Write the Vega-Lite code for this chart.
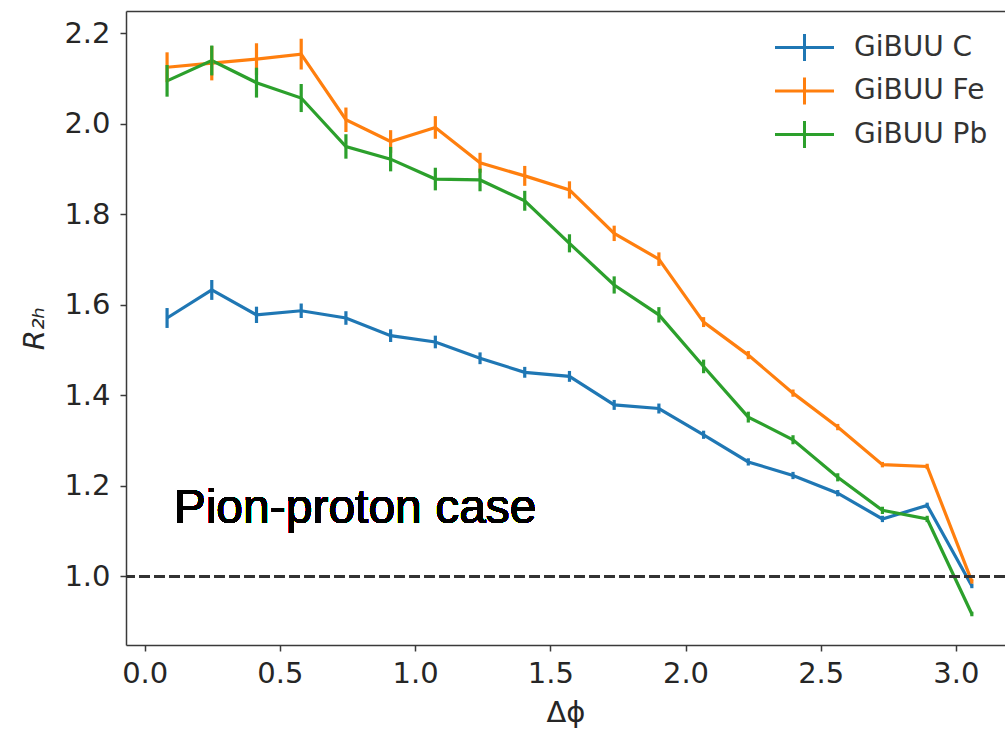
{
  "$schema": "https://vega.github.io/schema/vega-lite/v6.json",
  "width": 879,
  "height": 634,
  "autosize": {"type": "none"},
  "padding": {"left": 126, "top": 11, "right": 0, "bottom": 92},
  "background": "white",
  "config": {
    "view": {"stroke": null},
    "font": "DejaVu Sans",
    "axis": {
      "grid": false,
      "domainColor": "#3a3a3a",
      "domainWidth": 1.5,
      "tickColor": "#3a3a3a",
      "tickWidth": 1.5,
      "tickSize": 6,
      "labelFont": "DejaVu Sans",
      "labelFontSize": 29,
      "labelColor": "#262626",
      "titleFont": "DejaVu Sans",
      "titleFontSize": 29,
      "titleColor": "#262626",
      "titleFontWeight": "normal"
    },
    "axisY": {
      "labelPadding": 10,
      "titleFontStyle": "italic",
      "titlePadding": 14
    }
  },
  "data": {
    "values": [
      {"s": "GiBUU C", "x": 0.0827, "y": 1.571, "e": 0.022},
      {"s": "GiBUU C", "x": 0.2480, "y": 1.633, "e": 0.022},
      {"s": "GiBUU C", "x": 0.4134, "y": 1.578, "e": 0.018},
      {"s": "GiBUU C", "x": 0.5787, "y": 1.587, "e": 0.016},
      {"s": "GiBUU C", "x": 0.7441, "y": 1.571, "e": 0.015},
      {"s": "GiBUU C", "x": 0.9094, "y": 1.532, "e": 0.014},
      {"s": "GiBUU C", "x": 1.0748, "y": 1.518, "e": 0.014},
      {"s": "GiBUU C", "x": 1.2401, "y": 1.482, "e": 0.013},
      {"s": "GiBUU C", "x": 1.4054, "y": 1.451, "e": 0.012},
      {"s": "GiBUU C", "x": 1.5708, "y": 1.442, "e": 0.012},
      {"s": "GiBUU C", "x": 1.7362, "y": 1.379, "e": 0.011},
      {"s": "GiBUU C", "x": 1.9015, "y": 1.371, "e": 0.011},
      {"s": "GiBUU C", "x": 2.0668, "y": 1.313, "e": 0.009},
      {"s": "GiBUU C", "x": 2.2322, "y": 1.253, "e": 0.008},
      {"s": "GiBUU C", "x": 2.3975, "y": 1.223, "e": 0.008},
      {"s": "GiBUU C", "x": 2.5629, "y": 1.184, "e": 0.007},
      {"s": "GiBUU C", "x": 2.7282, "y": 1.127, "e": 0.007},
      {"s": "GiBUU C", "x": 2.8936, "y": 1.157, "e": 0.006},
      {"s": "GiBUU C", "x": 3.0589, "y": 0.979, "e": 0.005},
      {"s": "GiBUU Fe", "x": 0.0827, "y": 2.125, "e": 0.033},
      {"s": "GiBUU Fe", "x": 0.2480, "y": 2.134, "e": 0.038},
      {"s": "GiBUU Fe", "x": 0.4134, "y": 2.143, "e": 0.035},
      {"s": "GiBUU Fe", "x": 0.5787, "y": 2.154, "e": 0.034},
      {"s": "GiBUU Fe", "x": 0.7441, "y": 2.009, "e": 0.027},
      {"s": "GiBUU Fe", "x": 0.9094, "y": 1.961, "e": 0.025},
      {"s": "GiBUU Fe", "x": 1.0748, "y": 1.992, "e": 0.025},
      {"s": "GiBUU Fe", "x": 1.2401, "y": 1.914, "e": 0.022},
      {"s": "GiBUU Fe", "x": 1.4054, "y": 1.885, "e": 0.022},
      {"s": "GiBUU Fe", "x": 1.5708, "y": 1.854, "e": 0.019},
      {"s": "GiBUU Fe", "x": 1.7362, "y": 1.758, "e": 0.017},
      {"s": "GiBUU Fe", "x": 1.9015, "y": 1.701, "e": 0.015},
      {"s": "GiBUU Fe", "x": 2.0668, "y": 1.562, "e": 0.011},
      {"s": "GiBUU Fe", "x": 2.2322, "y": 1.489, "e": 0.009},
      {"s": "GiBUU Fe", "x": 2.3975, "y": 1.405, "e": 0.008},
      {"s": "GiBUU Fe", "x": 2.5629, "y": 1.330, "e": 0.007},
      {"s": "GiBUU Fe", "x": 2.7282, "y": 1.247, "e": 0.006},
      {"s": "GiBUU Fe", "x": 2.8936, "y": 1.243, "e": 0.006},
      {"s": "GiBUU Fe", "x": 3.0589, "y": 0.989, "e": 0.005},
      {"s": "GiBUU Pb", "x": 0.0827, "y": 2.095, "e": 0.035},
      {"s": "GiBUU Pb", "x": 0.2480, "y": 2.140, "e": 0.033},
      {"s": "GiBUU Pb", "x": 0.4134, "y": 2.091, "e": 0.033},
      {"s": "GiBUU Pb", "x": 0.5787, "y": 2.057, "e": 0.031},
      {"s": "GiBUU Pb", "x": 0.7441, "y": 1.950, "e": 0.027},
      {"s": "GiBUU Pb", "x": 0.9094, "y": 1.922, "e": 0.027},
      {"s": "GiBUU Pb", "x": 1.0748, "y": 1.878, "e": 0.025},
      {"s": "GiBUU Pb", "x": 1.2401, "y": 1.876, "e": 0.025},
      {"s": "GiBUU Pb", "x": 1.4054, "y": 1.830, "e": 0.022},
      {"s": "GiBUU Pb", "x": 1.5708, "y": 1.736, "e": 0.020},
      {"s": "GiBUU Pb", "x": 1.7362, "y": 1.644, "e": 0.019},
      {"s": "GiBUU Pb", "x": 1.9015, "y": 1.578, "e": 0.017},
      {"s": "GiBUU Pb", "x": 2.0668, "y": 1.464, "e": 0.015},
      {"s": "GiBUU Pb", "x": 2.2322, "y": 1.352, "e": 0.012},
      {"s": "GiBUU Pb", "x": 2.3975, "y": 1.302, "e": 0.010},
      {"s": "GiBUU Pb", "x": 2.5629, "y": 1.219, "e": 0.009},
      {"s": "GiBUU Pb", "x": 2.7282, "y": 1.146, "e": 0.008},
      {"s": "GiBUU Pb", "x": 2.8936, "y": 1.127, "e": 0.007},
      {"s": "GiBUU Pb", "x": 3.0589, "y": 0.917, "e": 0.005}
    ]
  },
  "resolve": {"axis": {"x": "independent"}},
  "layer": [
    {
      "mark": {"type": "line", "strokeWidth": 3.2, "clip": true},
      "encoding": {
        "x": {
          "field": "x", "type": "quantitative",
          "scale": {"domain": [-0.0692, 3.1815], "nice": false, "zero": false},
          "axis": {"values": [0, 0.5, 1, 1.5, 2, 2.5, 3], "format": ".1f", "labelPadding": 8, "title": "Δϕ", "titlePadding": 10}
        },
        "y": {
          "field": "y", "type": "quantitative",
          "scale": {"domain": [0.8485, 2.2493], "nice": false, "zero": false},
          "axis": {"values": [1.0, 1.2, 1.4, 1.6, 1.8, 2.0, 2.2], "format": ".1f", "title": "R₂ₕ"}
        },
        "color": {
          "field": "s", "type": "nominal",
          "scale": {"domain": ["GiBUU C", "GiBUU Fe", "GiBUU Pb"], "range": ["#1f77b4", "#ff7f0e", "#2ca02c"]},
          "legend": {
            "orient": "none", "legendX": 662, "legendY": 20, "title": null, "padding": 0,
            "symbolType": "M-2,0L2,0M0,-0.92L0,0.92", "symbolSize": 870, "symbolStrokeWidth": 3,
            "labelFont": "DejaVu Sans", "labelFontSize": 28, "labelColor": "#333333",
            "labelOffset": 33, "rowPadding": 2.5
          }
        }
      }
    },
    {
      "mark": {"type": "errorbar", "thickness": 3.2},
      "encoding": {
        "x": {"field": "x", "type": "quantitative", "axis": null},
        "y": {"field": "y", "type": "quantitative", "axis": {"values": [1.0, 1.2, 1.4, 1.6, 1.8, 2.0, 2.2], "format": ".1f", "title": "R₂ₕ"}},
        "yError": {"field": "e"},
        "color": {"field": "s", "type": "nominal", "legend": null}
      }
    },
    {
      "mark": {"type": "rule", "color": "#333333", "strokeWidth": 2.5, "strokeDash": [10.5, 4.5]},
      "encoding": {
        "y": {"datum": 1.0, "type": "quantitative", "axis": {"values": [1.0, 1.2, 1.4, 1.6, 1.8, 2.0, 2.2], "format": ".1f", "title": "R₂ₕ"}}
      }
    },
    {
      "mark": {"type": "text", "text": "Pion-proton case", "font": "Liberation Sans", "fontSize": 48, "color": "black", "align": "left", "baseline": "alphabetic"},
      "encoding": {
        "x": {"datum": 0.107, "type": "quantitative", "axis": {"orient": "top", "labels": false, "ticks": false, "domain": true, "title": null, "grid": false}},
        "y": {"datum": 1.119, "type": "quantitative", "axis": {"values": [1.0, 1.2, 1.4, 1.6, 1.8, 2.0, 2.2], "format": ".1f", "title": "R₂ₕ"}}
      }
    }
  ]
}
